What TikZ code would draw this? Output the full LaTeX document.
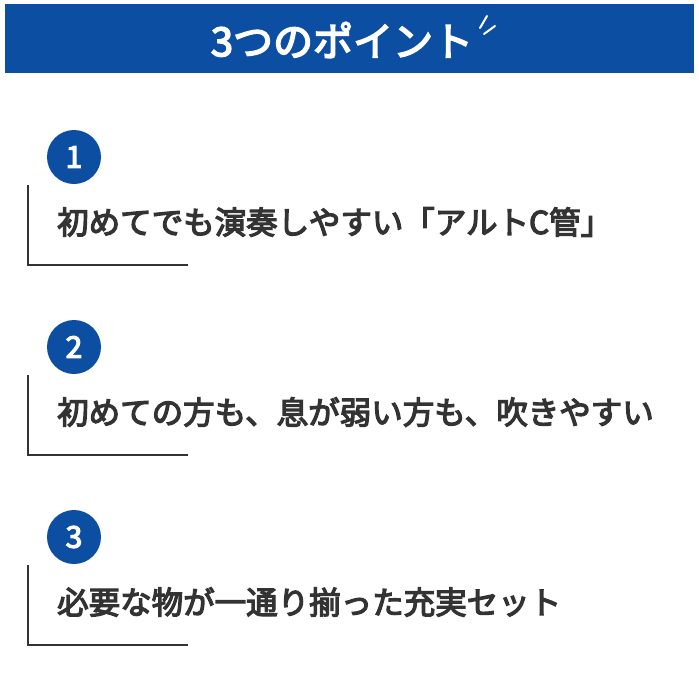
\documentclass[tikz,border=0pt]{standalone}
\usepackage{fontspec}
\setmainfont{Noto Sans CJK JP}[AutoFakeBold=4]
\definecolor{hblue}{HTML}{0B4EA2}
\definecolor{tgray}{HTML}{333333}
\begin{document}
\begin{tikzpicture}[x=1pt,y=-1pt,
  numc/.style={circle,fill=hblue,minimum size=54pt,inner sep=0pt,text=white,font=\fontsize{30}{30}\selectfont\bfseries},
  body/.style={anchor=west,text=tgray,font=\fontsize{31.5}{31.5}\selectfont\bfseries,inner sep=0pt},
  brk/.style={draw=tgray,line width=1.2pt}]
\useasboundingbox (0,0) rectangle (699,699);
\fill[hblue] (5,4) rectangle (694,73);
\node[text=white,font=\fontsize{40}{40}\selectfont\bfseries,inner sep=0pt] (title) at (342,40) {3つのポイント};
\coordinate (s1) at (480,28); \coordinate (s1b) at (487,16);
\coordinate (s2) at (484,34); \coordinate (s2b) at (495,26);
\draw[white,line width=2pt,line cap=round] (s1)--(s1b) (s2)--(s2b);
\foreach \i/\y/\t in {1/157/初めてでも演奏しやすい「アルトC管」,2/347/初めての方も、息が弱い方も、吹きやすい,3/537/必要な物が一通り揃った充実セット}{
  \node[numc] (n\i) at (74,\y) {\i};
  \node[body] (t\i) at (57,\y+65) {\t};
  \coordinate (a\i) at (28,\y+28);
  \coordinate (b\i) at (28,\y+108);
  \coordinate (c\i) at (188,\y+108);
  \draw[brk] (a\i)--(b\i)--(c\i);
}
\end{tikzpicture}
\end{document}
